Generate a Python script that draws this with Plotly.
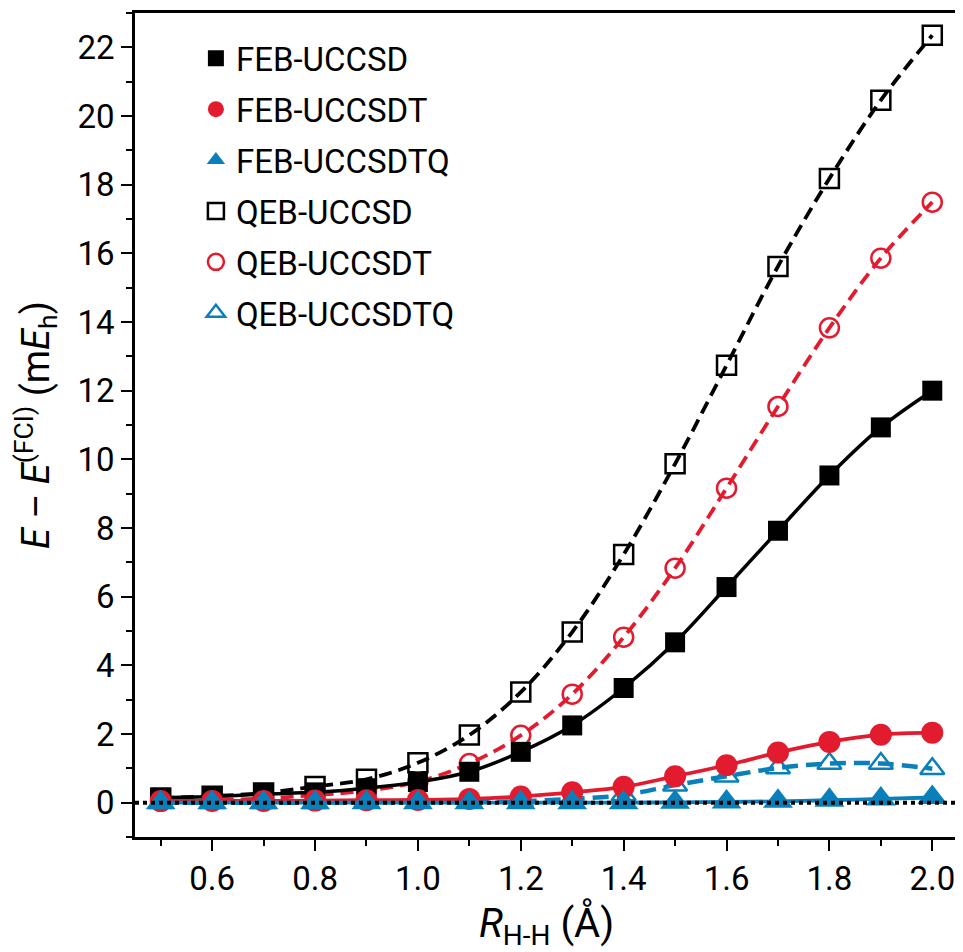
import plotly.graph_objects as go

r_hh = [0.5, 0.6, 0.7, 0.8, 0.9, 1.0, 1.1, 1.2, 1.3, 1.4, 1.5, 1.6, 1.7, 1.8, 1.9, 2.0]

feb_uccsd = [0.15, 0.18, 0.25, 0.30, 0.42, 0.60, 0.90, 1.48, 2.25, 3.34, 4.67, 6.28, 7.92, 9.53, 10.93, 12.00]
feb_uccsdt = [0.05, 0.05, 0.05, 0.06, 0.07, 0.08, 0.11, 0.18, 0.30, 0.46, 0.77, 1.09, 1.46, 1.77, 1.98, 2.04]
feb_uccsdtq = [0.0, 0.0, 0.0, 0.0, 0.0, 0.0, 0.0, 0.0, 0.0, 0.0, 0.01, 0.02, 0.04, 0.07, 0.11, 0.15]
qeb_uccsd = [0.13, 0.19, 0.28, 0.47, 0.68, 1.16, 1.97, 3.22, 4.97, 7.23, 9.87, 12.74, 15.62, 18.18, 20.46, 22.35]
qeb_uccsdt = [0.04, 0.07, 0.12, 0.22, 0.35, 0.61, 1.14, 1.96, 3.16, 4.82, 6.83, 9.16, 11.54, 13.83, 15.86, 17.49]
qeb_uccsdtq = [0.0, 0.0, 0.0, 0.0, 0.01, 0.01, 0.02, 0.04, 0.11, 0.22, 0.51, 0.77, 1.01, 1.14, 1.14, 0.99]

names = ["FEB-UCCSD", "FEB-UCCSDT", "FEB-UCCSDTQ", "QEB-UCCSD", "QEB-UCCSDT", "QEB-UCCSDTQ"]

BLACK = "#000000"
RED = "#e31b2f"
BLUE = "#0a80bb"

fig = go.Figure()

def add(y, color, symbol, size, dash, lw, open_=False):
    if open_:
        marker = dict(symbol=symbol + "-open", size=size, color=color, line=dict(width=2.5, color=color))
    else:
        marker = dict(symbol=symbol, size=size, color=color)
    fig.add_trace(go.Scatter(
        x=r_hh, y=y, mode="lines+markers", showlegend=False,
        line=dict(color=color, width=lw, dash=dash, shape="spline", smoothing=1.0),
        marker=marker,
    ))

add(qeb_uccsd, BLACK, "square", 19, "13px,7px", 3.8, True)
add(qeb_uccsdt, RED, "circle", 19, "13px,7px", 3.8, True)
add(qeb_uccsdtq, BLUE, "triangle-up", 21, "16px,8px", 4.5, True)
add(feb_uccsd, BLACK, "square", 20, "solid", 3.5, False)
add(feb_uccsdt, RED, "circle", 22, "solid", 3.8, False)
add(feb_uccsdtq, BLUE, "triangle-up", 26, "solid", 3.8, False)

# zero reference line
zero_x = [0.45, 2.05]
zero_y = [0, 0]
fig.add_trace(go.Scatter(x=zero_x, y=zero_y, mode="lines", showlegend=False,
                         line=dict(color=BLACK, width=4, dash="4px,4px"), hoverinfo="skip"))

# legend entries (markers only)
legend_specs = [
    (names[0], BLACK, "square"),
    (names[1], RED, "circle"),
    (names[2], BLUE, "triangle-up"),
    (names[3], BLACK, "square-open"),
    (names[4], RED, "circle-open"),
    (names[5], BLUE, "triangle-up-open"),
]
for i, (nm, col, sym) in enumerate(legend_specs):
    mk = dict(symbol=sym, size=20, color=col)
    if sym.endswith("open"):
        mk["line"] = dict(width=2.5, color=col)
    fig.add_trace(go.Scatter(x=[None], y=[None], mode="markers", name=nm,
                             marker=mk, legendgroup=str(i), showlegend=True))

axis_common = dict(
    showline=True, linecolor="black", linewidth=2.5, mirror=True,
    ticks="outside", ticklen=11, tickwidth=2, tickcolor="black",
    showgrid=False, zeroline=False,
    tickfont=dict(family="Roboto", size=33, color="black"),
)

fig.update_xaxes(range=[0.45, 2.05], dtick=0.2, tick0=0, tickformat=".1f",
                 minor=dict(dtick=0.1, tick0=0, ticks="outside", ticklen=6, tickwidth=2, tickcolor="black"),
                 title=dict(text="<i>R</i><sub>H-H</sub> (Å)", font=dict(family="Roboto", size=40, color="black"), standoff=16),
                 **axis_common)
fig.update_yaxes(range=[-1, 23], dtick=2, tick0=0,
                 minor=dict(dtick=1, tick0=0, ticks="outside", ticklen=6, tickwidth=2, tickcolor="black"),
                 title=dict(text="<i>E</i> – <i>E</i><sup>(FCI)</sup> (m<i>E</i><sub>h</sub>)", font=dict(family="Roboto", size=38, color="black"), standoff=20),
                 **axis_common)

fig.update_layout(
    width=955, height=944,
    margin=dict(l=127, r=2, t=3, b=115),
    plot_bgcolor="white", paper_bgcolor="white",
    font=dict(family="Roboto", color="black"),
    legend=dict(x=0.074, y=0.979, xanchor="left", yanchor="top",
                font=dict(family="Roboto", size=33, color="black"),
                traceorder="grouped", tracegroupgap=5, bgcolor="rgba(0,0,0,0)",
                itemsizing="trace"),
    showlegend=True,
)

fig.write_html("out.html")
